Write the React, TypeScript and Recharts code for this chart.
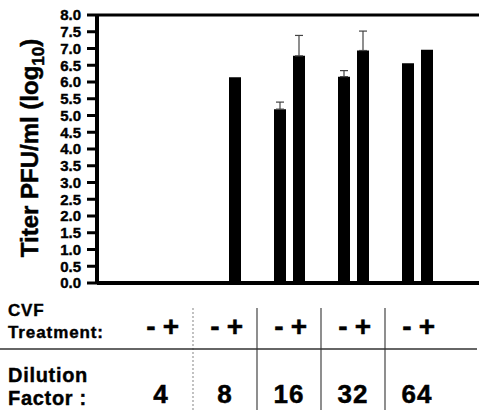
import React from "react";
import { Bar, BarChart, ErrorBar, ReferenceLine, XAxis, YAxis } from "recharts";

/* CVF treatment vs dilution factor: titer bars with one-sided SD whiskers. */

const dilutions = ["4", "8", "16", "32", "64"];
const minusTiter = [0, 0, 5.19, 6.16, 6.56];
const plusTiter = [0, 6.14, 6.78, 6.94, 6.96];
// null = no whisker drawn for that bar
const minusErr = [null, null, 0.21, 0.18, null];
const plusErr = [null, null, 0.61, 0.58, null];
const yTicks = [0, 0.5, 1, 1.5, 2, 2.5, 3, 3.5, 4, 4.5, 5, 5.5, 6, 6.5, 7, 7.5, 8];

const data = dilutions.map((d, i) => ({
  dilution: d,
  minus: minusTiter[i],
  plus: plusTiter[i],
  minusErr: minusErr[i] == null ? null : [0, minusErr[i]],
  plusErr: plusErr[i] == null ? null : [0, plusErr[i]],
}));

const FONT = "'Liberation Sans', Arial, sans-serif";
const INK = "#000";

function TableTick(props: any) {
  const { x, payload, index } = props;
  return (
    <g fontFamily={FONT} fontWeight="bold" fill={INK} stroke={INK} strokeWidth={0.5}>
      {index > 0 && (
        <line
          x1={x - 32}
          x2={x - 32}
          y1={308}
          y2={410}
          stroke={index === 1 ? "#999" : "#444"}
          strokeWidth={1.2}
          strokeDasharray={index === 1 ? "2 2" : undefined}
        />
      )}
      <text x={x - 10} y={336} fontSize={28} textAnchor="middle">
        -
      </text>
      <text x={x + 10} y={336} fontSize={28} textAnchor="middle">
        +
      </text>
      <text x={x} y={403} fontSize={26} letterSpacing={1} textAnchor="middle">
        {payload.value}
      </text>
    </g>
  );
}

export default function App() {
  return (
    <div
      style={{
        position: "fixed",
        left: 0,
        top: 0,
        width: 479,
        height: 410,
        overflow: "hidden",
        background: "#fff",
      }}
    >
      <BarChart
        width={481}
        height={410}
        data={data}
        margin={{ top: 15, right: 0, bottom: 0, left: 0 }}
        barSize={12}
        barGap={7}
      >
        <XAxis
          dataKey="dilution"
          height={127}
          interval={0}
          padding={{ left: 32, right: 32 }}
          axisLine={{ stroke: INK, strokeWidth: 4 }}
          tickLine={false}
          tick={<TableTick />}
        />
        <YAxis
          width={97}
          domain={[0, 8]}
          ticks={yTicks}
          interval={0}
          tickFormatter={(v: number) => v.toFixed(1)}
          tickSize={10}
          tickMargin={6}
          axisLine={{ stroke: INK, strokeWidth: 4 }}
          tickLine={{ stroke: INK, strokeWidth: 3 }}
          tick={{
            fill: INK,
            stroke: INK,
            strokeWidth: 0.4,
            fontSize: 15,
            fontWeight: "bold",
            fontFamily: FONT,
          }}
        />
        <ReferenceLine y={8} stroke={INK} strokeWidth={3} />
        <Bar dataKey="minus" fill={INK} isAnimationActive={false}>
          <ErrorBar dataKey="minusErr" width={4} stroke="#444" strokeWidth={1.2} isAnimationActive={false} />
        </Bar>
        <Bar dataKey="plus" fill={INK} isAnimationActive={false}>
          <ErrorBar dataKey="plusErr" width={4} stroke="#444" strokeWidth={1.2} isAnimationActive={false} />
        </Bar>
      </BarChart>
      <svg
        width={479}
        height={410}
        style={{ position: "absolute", left: 0, top: 0, pointerEvents: "none" }}
        fontFamily={FONT}
        fontWeight="bold"
        fill={INK}
      >
        <text
          x={38}
          y={148}
          fontSize={24}
          stroke={INK}
          strokeWidth={0.5}
          textAnchor="middle"
          transform="rotate(-90, 38, 148)"
        >
          Titer PFU/ml (log
          <tspan fontSize={17} dy={6}>
            10
          </tspan>
          <tspan dy={-6}>)</tspan>
        </text>
        <g stroke={INK} strokeWidth={0.4}>
          <text x={8} y={316} fontSize={17} letterSpacing={0.8}>
            CVF
          </text>
          <text x={8} y={338} fontSize={17} letterSpacing={0.9}>
            Treatment:
          </text>
          <text x={8} y={382} fontSize={20} letterSpacing={0.7}>
            Dilution
          </text>
          <text x={8} y={405} fontSize={20} letterSpacing={0.7}>
            Factor :
          </text>
        </g>
        <line x1={0} x2={477} y1={349} y2={349} stroke="#333" strokeWidth={1.5} />
      </svg>
    </div>
  );
}
